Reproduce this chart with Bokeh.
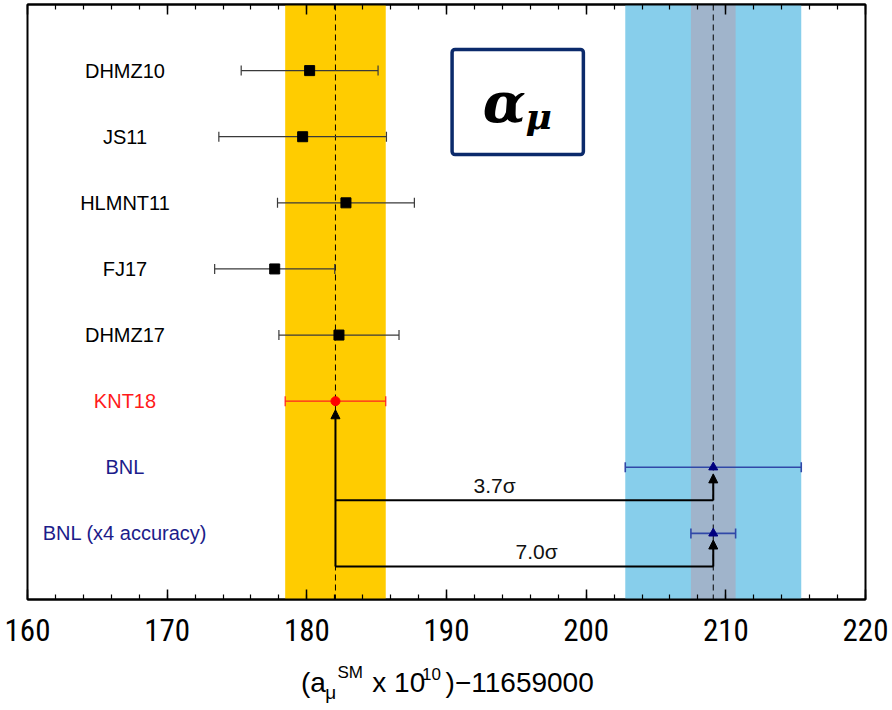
from bokeh.plotting import figure
from bokeh.layouts import column
from bokeh.models import (Range1d, LinearAxis, SingleIntervalTicker, Whisker, ColumnDataSource,
                          Arrow, NormalHead, Label, BoxAnnotation, TeeHead, Span)
from bokeh.core.properties import value
from bokeh.embed import file_html
from bokeh.resources import INLINE

# ---- data ----
labels = ["DHMZ10", "JS11", "HLMNT11", "FJ17", "DHMZ17", "KNT18", "BNL", "BNL (x4 accuracy)"]
values = [180.2, 179.7, 182.8, 177.7, 182.3, 182.05, 209.1, 209.1]
errors = [4.9, 6.0, 4.9, 4.3, 4.3, 3.6, 6.3, 1.6]
rows = [8, 7, 6, 5, 4, 3, 2, 1]
groups = ["th", "th", "th", "th", "th", "knt", "bnl", "bnl"]
sigma_labels = ["3.7\u03c3", "7.0\u03c3"]
sigma_rows = [1.5, 0.5]
sigma_label_x = [193.45, 196.45]

X0, X1 = 160, 220
Y0, Y1 = 0, 9
label_x = 166.98

W = 892
H_MAIN = 660
H_TITLE = 50

p = figure(width=W, height=H_MAIN, output_backend="svg", toolbar_location=None,
           x_range=Range1d(X0, X1), y_range=Range1d(Y0, Y1),
           x_axis_location=None, y_axis_location=None,
           min_border_left=27, min_border_right=27, min_border_top=4, min_border_bottom=61,
           background_fill_color="white", border_fill_color="white")
p.grid.visible = False
p.outline_line_color = "black"
p.outline_line_width = 2

ticker = SingleIntervalTicker(interval=10, num_minor_ticks=5)
xb = LinearAxis(ticker=ticker, major_tick_in=10, major_tick_out=0, minor_tick_in=5, minor_tick_out=0,
                axis_line_width=2, major_tick_line_width=1.5, minor_tick_line_width=1.2,
                major_label_text_font_size="31px", major_label_text_font="Roboto Condensed",
                major_label_text_color="black", major_label_standoff=19)
p.add_layout(xb, "below")
xt = LinearAxis(ticker=ticker, major_tick_in=10, major_tick_out=0, minor_tick_in=5, minor_tick_out=0,
                axis_line_width=2, major_tick_line_width=1.5, minor_tick_line_width=1.2,
                major_label_text_font_size="1px", major_label_text_alpha=0, major_label_standoff=0)
p.add_layout(xt, "above")

# ---- bands ----
k = labels.index("KNT18")
b = labels.index("BNL")
b4 = labels.index("BNL (x4 accuracy)")
p.quad(left=[values[b] - errors[b]], right=[values[b] + errors[b]], bottom=Y0, top=Y1,
       fill_color="#87CEEB", line_color=None, level="image")
p.quad(left=[values[b4] - errors[b4]], right=[values[b4] + errors[b4]], bottom=Y0, top=Y1,
       fill_color="#A0B4CB", line_color=None, level="image")
p.quad(left=[values[k] - errors[k]], right=[values[k] + errors[k]], bottom=Y0, top=Y1,
       fill_color="#FFCC00", line_color=None, level="image")

for xv in (values[k], values[b]):
    p.add_layout(Span(location=xv, dimension="height", line_color="black", line_width=1,
                      line_dash="6 4", level="underlay"))

# ---- error bars ----
style = {"th": ("#3a3a3a", 1.2), "knt": ("#ff2020", 1.2), "bnl": ("#3048a8", 1.6)}
for g, (col, lw) in style.items():
    idx = [i for i, gg in enumerate(groups) if gg == g]
    src = ColumnDataSource(dict(y=[rows[i] for i in idx],
                                lo=[values[i] - errors[i] for i in idx],
                                hi=[values[i] + errors[i] for i in idx]))
    w = Whisker(source=src, base="y", lower="lo", upper="hi", dimension="width",
                line_color=col, line_width=lw, level="underlay",
                upper_head=TeeHead(size=10, line_color=col, line_width=lw),
                lower_head=TeeHead(size=10, line_color=col, line_width=lw))
    p.add_layout(w)

# ---- connecting lines & arrows ----
for i, yl in zip((b, b4), sigma_rows):
    p.line(x=[values[k], values[i]], y=[yl, yl], line_color="black", line_width=2)
    p.add_layout(Arrow(x_start=values[i], y_start=yl, x_end=values[i], y_end=rows[i] - 0.1,
                       line_color="black", line_width=2,
                       end=NormalHead(size=9, fill_color="black", line_color="black", line_width=1)))
p.add_layout(Arrow(x_start=values[k], y_start=min(sigma_rows), x_end=values[k], y_end=rows[k] - 0.13,
                   line_color="black", line_width=2,
                   end=NormalHead(size=9, fill_color="black", line_color="black", line_width=1)))

# ---- markers ----
th = [i for i, g in enumerate(groups) if g == "th"]
p.scatter(x=[values[i] for i in th], y=[rows[i] for i in th], marker="square", size=10,
          fill_color="black", line_color="black")
p.scatter(x=[values[k]], y=[rows[k]], marker="circle", size=9, fill_color="#ff0000", line_color="#ff0000")
p.scatter(x=[values[b], values[b4]], y=[rows[b], rows[b4]], marker="triangle", size=9,
          fill_color="#00007f", line_color="#00007f")

# ---- row labels ----
lab_colors = ["black" if g == "th" else ("#ff1a1a" if g == "knt" else "#1c1c8a") for g in groups]
p.text(x=[label_x] * len(labels), y=rows, text=labels, text_color=lab_colors,
       text_font=value("Liberation Sans"), text_font_size="20px",
       text_align="center", text_baseline="middle")

# ---- sigma labels ----
px_per_row = 595.0 / (Y1 - Y0)
p.text(x=sigma_label_x, y=[r + 15.0 / px_per_row for r in sigma_rows], text=sigma_labels,
       text_font=value("Liberation Sans"), text_font_size="21px", text_color="#111111",
       text_align="center", text_baseline="middle")

# ---- alpha_mu box ----
p.add_layout(BoxAnnotation(left=190.4, right=199.8, bottom=6.73, top=8.32,
                           fill_color="white", fill_alpha=1, line_color="#0B2A6B", line_alpha=1,
                           line_width=3.5, border_radius=3))
p.add_layout(Label(x=192.6, y=(599 - 101.5) / px_per_row, text="\u03b1", text_font="DejaVu Serif",
                   text_font_style="bold italic", text_font_size="56px", text_color="black",
                   text_baseline="middle", text_align="left"))
p.add_layout(Label(x=195.66, y=(599 - 115.5) / px_per_row, text="\u03bc", text_font="DejaVu Serif",
                   text_font_style="bold italic", text_font_size="36px", text_color="black",
                   text_baseline="middle", text_align="left"))

# ---- axis title (composed, in its own strip below the plot; coordinates = window pixels) ----
t = figure(width=W, height=H_TITLE, output_backend="svg", toolbar_location=None,
           x_range=Range1d(0, W), y_range=Range1d(H_MAIN + H_TITLE, H_MAIN),
           x_axis_location=None, y_axis_location=None,
           min_border_left=0, min_border_right=0, min_border_top=0, min_border_bottom=0,
           outline_line_color=None, background_fill_color="white", border_fill_color="white")
t.grid.visible = False
title_text = ["(a", "\u03bc", "SM", "x 10", "10", ")\u221211659000"]
title_x = [291, 317, 330, 367, 420, 445]
title_y = [681.5, 692, 671.5, 681.5, 673.5, 681.5]
title_fs = ["28px", "19px", "17px", "28px", "17px", "28px"]
t.text(x=title_x, y=title_y, text=title_text, text_font_size=title_fs,
       text_font=value("Liberation Sans"), text_color="black",
       text_align="left", text_baseline="middle")

layout = column(p, t, spacing=0)
open("out.html", "w").write(file_html(layout, INLINE))
